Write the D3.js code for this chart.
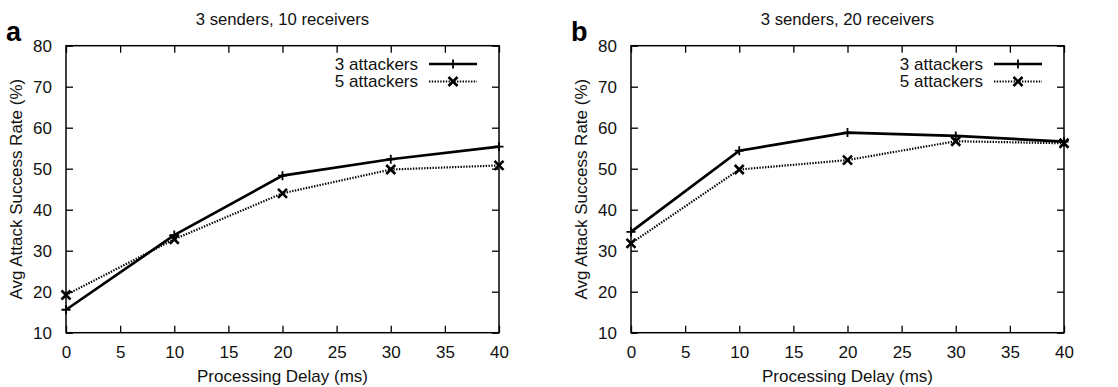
<!DOCTYPE html>
<html>
<head>
<meta charset="utf-8">
<script src="https://cdn.jsdelivr.net/npm/d3@7"></script>
<style>
  html, body { margin: 0; padding: 0; background: #fff; }
  svg { display: block; font-family: "Liberation Sans", Arial, Helvetica, sans-serif; }
</style>
</head>
<body>
<svg id="chart" width="1118" height="387"></svg>
<script>
// Processing delay (ms) on the x axis
const delays = [0, 10, 20, 30, 40];
const xTicks = [0, 5, 10, 15, 20, 25, 30, 35, 40];
const yTicks = [10, 20, 30, 40, 50, 60, 70, 80];

// Panel a: 3 senders, 10 receivers
const a3Attackers = [15.6, 33.8, 48.3, 52.3, 55.4];
const a5Attackers = [19.2, 32.8, 44.0, 49.8, 50.8];

// Panel b: 3 senders, 20 receivers
const b3Attackers = [34.6, 54.4, 58.8, 58.0, 56.6];
const b5Attackers = [31.8, 49.8, 52.1, 56.7, 56.2];

const seriesNames = ["3 attackers", "5 attackers"];
const panelTitles = ["3 senders, 10 receivers", "3 senders, 20 receivers"];
const panelLetters = ["a", "b"];
const xLabel = "Processing Delay (ms)";
const yLabel = "Avg Attack Success Rate (%)";

const panels = [
  { letter: panelLetters[0], title: panelTitles[0], series: [a3Attackers, a5Attackers], left: 66, right: 499 },
  { letter: panelLetters[1], title: panelTitles[1], series: [b3Attackers, b5Attackers], left: 631, right: 1064 }
];

const plotTop = 45.7, plotBottom = 332.7, tickLen = 7;
const svg = d3.select("#chart");

const styles = [
  { width: 2.7, dash: null, marker: "plus" },
  { width: 2.2, dash: "1.4,1.4", marker: "cross" }
];

function drawMarker(g, kind, cx, cy) {
  const s = 4.5;
  if (kind === "plus") {
    g.append("path")
      .attr("d", `M${cx - s},${cy}H${cx + s}M${cx},${cy - s}V${cy + s}`)
      .attr("stroke", "#000").attr("stroke-width", 1.8).attr("fill", "none");
  } else {
    g.append("path")
      .attr("d", `M${cx - s},${cy - s}L${cx + s},${cy + s}M${cx - s},${cy + s}L${cx + s},${cy - s}`)
      .attr("stroke", "#000").attr("stroke-width", 2.6).attr("fill", "none");
  }
}

panels.forEach(p => {
  const x = d3.scaleLinear().domain([0, 40]).range([p.left, p.right]);
  const y = d3.scaleLinear().domain([10, 80]).range([plotBottom, plotTop]);
  const g = svg.append("g");

  // Inward ticks on all four sides, with labels on bottom and left
  const bottomAxis = d3.axisBottom(x).tickValues(xTicks).tickSizeInner(-tickLen).tickSizeOuter(0).tickPadding(13);
  const topAxis = d3.axisTop(x).tickValues(xTicks).tickSizeInner(-tickLen).tickSizeOuter(0).tickFormat("");
  const leftAxis = d3.axisLeft(y).tickValues(yTicks).tickSizeInner(-tickLen).tickSizeOuter(0).tickPadding(14);
  const rightAxis = d3.axisRight(y).tickValues(yTicks).tickSizeInner(-tickLen).tickSizeOuter(0).tickFormat("");

  const axStyle = sel => {
    sel.selectAll("path").remove();
    sel.selectAll("line").attr("stroke", "#000").attr("stroke-width", 1.3);
    sel.selectAll("text").attr("fill", "#111").style("font-size", "17px").style("font-family", "Liberation Sans, Arial, sans-serif");
  };
  g.append("g").attr("transform", `translate(0,${plotBottom})`).call(bottomAxis).call(axStyle);
  g.append("g").attr("transform", `translate(0,${plotTop})`).call(topAxis).call(axStyle);
  g.append("g").attr("transform", `translate(${p.left},0)`).call(leftAxis).call(axStyle);
  g.append("g").attr("transform", `translate(${p.right},0)`).call(rightAxis).call(axStyle);

  // Plot frame
  g.append("rect")
    .attr("x", p.left).attr("y", plotTop)
    .attr("width", p.right - p.left).attr("height", plotBottom - plotTop)
    .attr("fill", "none").attr("stroke", "#000").attr("stroke-width", 1.5);

  // Title, panel letter, axis labels
  g.append("text").attr("x", (p.left + p.right) / 2).attr("y", 25)
    .attr("text-anchor", "middle").style("font-size", "16.7px").attr("fill", "#111").text(p.title);
  g.append("text").attr("x", p.left - 60).attr("y", 41)
    .style("font-size", "27px").style("font-weight", "bold").attr("fill", "#000").text(p.letter);
  g.append("text").attr("x", (p.left + p.right) / 2).attr("y", 382)
    .attr("text-anchor", "middle").style("font-size", "17px").attr("fill", "#111").text(xLabel);
  g.append("text")
    .attr("transform", `translate(${p.left - 44},${(plotTop + plotBottom) / 2}) rotate(-90)`)
    .attr("text-anchor", "middle").style("font-size", "17px").attr("fill", "#111").text(yLabel);

  // Series lines and markers
  const line = d3.line().x((d, i) => x(delays[i])).y(d => y(d));
  p.series.forEach((vals, si) => {
    const st = styles[si];
    g.append("path").datum(vals).attr("d", line)
      .attr("fill", "none").attr("stroke", "#000").attr("stroke-width", st.width)
      .attr("stroke-dasharray", st.dash);
    vals.forEach((v, i) => drawMarker(g, st.marker, x(delays[i]), y(v)));
  });

  // Legend
  seriesNames.forEach((name, si) => {
    const st = styles[si];
    const ly = 64 + si * 17.5;
    g.append("text").attr("x", p.right - 81).attr("y", ly).attr("dy", "0.35em")
      .attr("text-anchor", "end").style("font-size", "17px").attr("fill", "#111").text(name);
    g.append("line").attr("x1", p.right - 70).attr("x2", p.right - 22).attr("y1", ly).attr("y2", ly)
      .attr("stroke", "#000").attr("stroke-width", st.width).attr("stroke-dasharray", st.dash);
    drawMarker(g, st.marker, p.right - 46, ly);
  });
});
</script>
</body>
</html>
